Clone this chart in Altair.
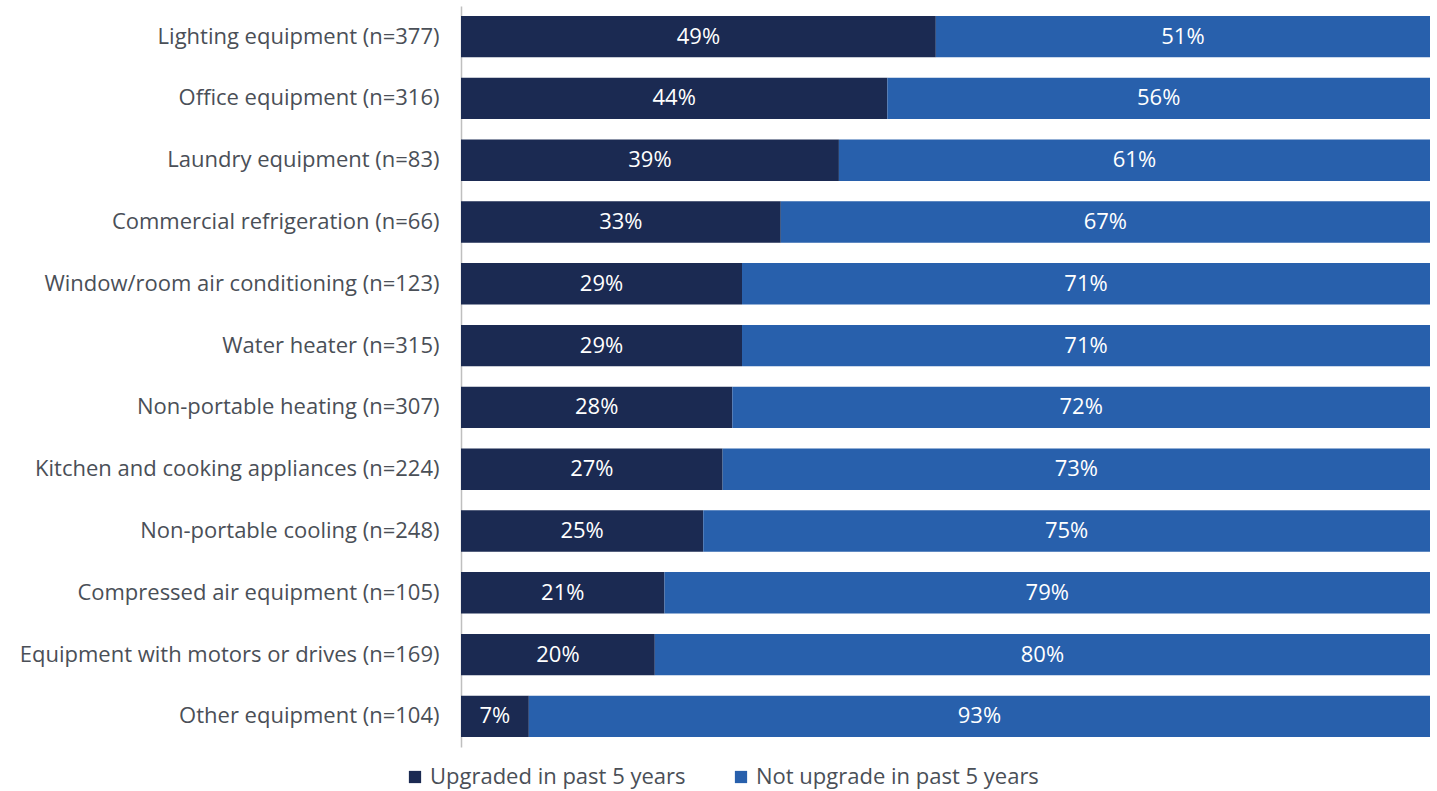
import altair as alt
import pandas as pd

categories = [
    "Lighting equipment (n=377)",
    "Office equipment (n=316)",
    "Laundry equipment (n=83)",
    "Commercial refrigeration (n=66)",
    "Window/room air conditioning (n=123)",
    "Water heater (n=315)",
    "Non-portable heating (n=307)",
    "Kitchen and cooking appliances (n=224)",
    "Non-portable cooling (n=248)",
    "Compressed air equipment (n=105)",
    "Equipment with motors or drives (n=169)",
    "Other equipment (n=104)",
]
upgraded = [49, 44, 39, 33, 29, 29, 28, 27, 25, 21, 20, 7]
not_upgraded = [51, 56, 61, 67, 71, 71, 72, 73, 75, 79, 80, 93]
series = ["Upgraded in past 5 years", "Not upgrade in past 5 years"]
colors = ["#1B2A52", "#2860AC"]

rows = []
for c, u, n in zip(categories, upgraded, not_upgraded):
    rows.append({"cat": c, "series": series[0], "value": u, "ord": 0})
    rows.append({"cat": c, "series": series[1], "value": n, "ord": 1})
df = pd.DataFrame(rows)

FONT = "Open Sans"
FS = 22

base = alt.Chart(df).transform_stack(
    stack="value", groupby=["cat"], as_=["x0", "x1"], sort=[alt.SortField("ord")]
).transform_calculate(mid="(datum.x0 + datum.x1) / 2")

y = alt.Y("cat:N", sort=categories, title=None,
          scale=alt.Scale(paddingInner=0.33, paddingOuter=0.16),
          axis=alt.Axis(labelFont=FONT, labelFontSize=FS, labelColor="#4A4F57",
                        labelPadding=22, ticks=False, domainColor="#BFBFBF",
                        domainWidth=1.5, labelLimit=600))

bars = base.mark_bar().encode(
    y=y,
    x=alt.X("x0:Q", scale=alt.Scale(domain=[0, 100]), axis=None),
    x2="x1:Q",
    color=alt.Color("series:N", sort=series,
                    scale=alt.Scale(domain=series, range=colors),
                    legend=alt.Legend(title=None, orient="none", direction="horizontal",
                                      legendX=-57, legendY=760,
                                      labelFont=FONT, labelFontSize=FS,
                                      labelColor="#4A4F57", symbolType="square",
                                      symbolSize=150, symbolStrokeWidth=0,
                                      columnPadding=44, labelOffset=4,
                                      labelLimit=600)),
)

text = base.mark_text(color="white", font=FONT, fontSize=FS).encode(
    y=alt.Y("cat:N", sort=categories),
    x=alt.X("mid:Q"),
    text=alt.Text("label:N"),
).transform_calculate(label="datum.value + '%'")

chart = (bars + text).properties(
    width=969, height=741,
    padding={"left": 19, "top": 6, "right": 7, "bottom": 45},
).configure_view(stroke=None)

chart.save("out.html", embed_options={"renderer": "svg", "actions": False})
